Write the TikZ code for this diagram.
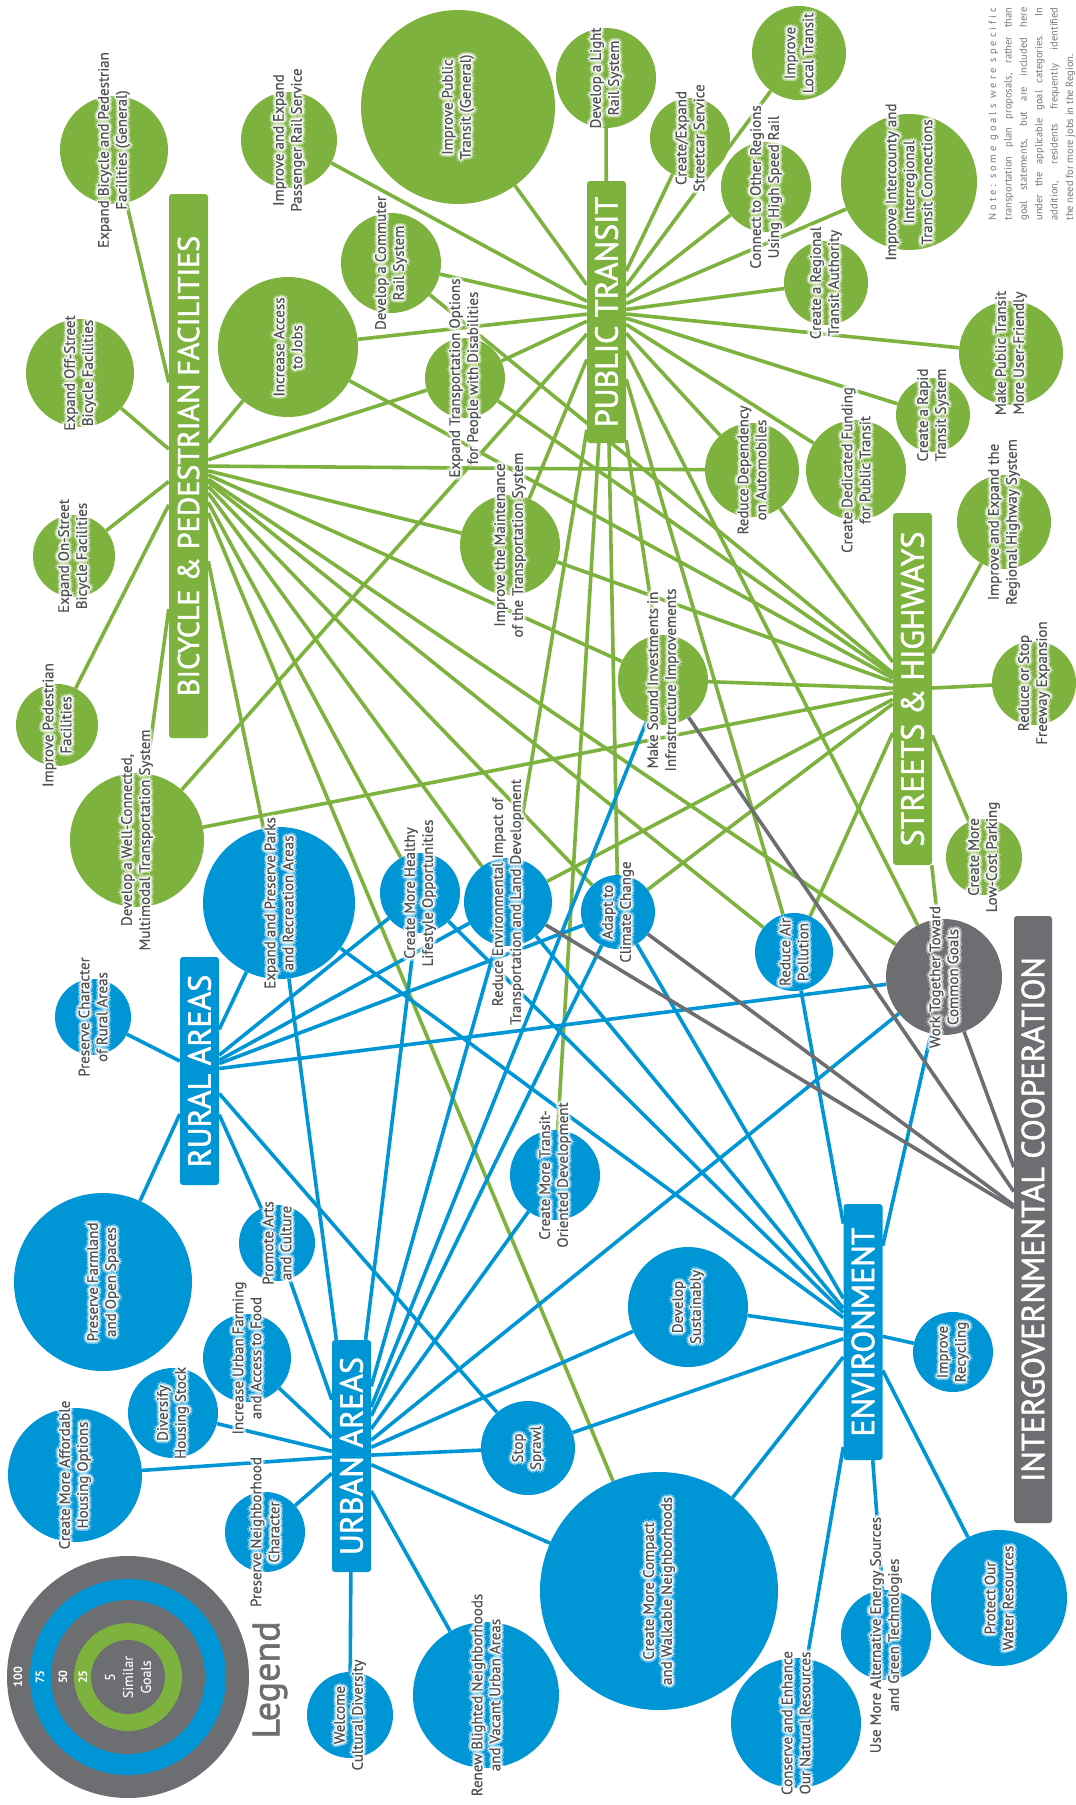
\documentclass[tikz,border=0pt]{standalone}
\usepackage{fontspec}
\setmainfont{PT Sans}
\newfontfamily\catfont{PT Sans}[FakeBold=1.6]
\newfontfamily\gfont{PT Sans}[FakeBold=0.4]
\usetikzlibrary{calc}
\definecolor{cg}{RGB}{126,178,62}
\definecolor{cb}{RGB}{0,150,214}
\definecolor{cgr}{RGB}{109,110,113}
\definecolor{tx}{RGB}{80,81,83}
\definecolor{notec}{RGB}{120,120,122}
\pgfdeclarelayer{bgl}
\pgfdeclarelayer{edges}
\pgfsetlayers{bgl,edges,main}
\tikzset{
  goalc/.style={circle, fill=#1, draw=none, inner sep=0pt},
  gt/.style={rotate=90, align=center, inner sep=0pt, text=tx, font=\gfont\fontsize{15}{18}\selectfont},
  cat/.style={rotate=90, fill=#1, text=white, inner sep=0pt, minimum height=39pt, rounded corners=3pt, font=\catfont\fontsize{32}{32}\selectfont},
  eg/.style={draw=cg, line width=3.6pt},
  eb/.style={draw=cb, line width=3.6pt},
  egr/.style={draw=cgr, line width=3.6pt},
  lgc/.style={circle, fill=#1, draw=none, inner sep=0pt},
  lgt/.style={rotate=90, text=white, inner sep=0pt, font=\bfseries\fontsize{12}{12}\selectfont},
}
\newcommand\goal[5]{\node[goalc=#2, minimum size=#5*2pt] (#1) at (#3,#4) {};}
\newcommand\lbl[2]{%
  \foreach \a in {0,45,...,315}{\node[gt,text=white,text opacity=.35] at ([shift={(\a:3.6)}]#1.center) {#2};}%
  \foreach \a in {0,45,...,315}{\node[gt,text=white,text opacity=.7] at ([shift={(\a:1.8)}]#1.center) {#2};}%
  \node[gt] (#1t) at (#1.center) {#2};}
\begin{document}
\begin{tikzpicture}[x=1pt,y=-1pt]
\begin{pgfonlayer}{bgl}
\fill[white] (0,0) rectangle (1076,1805);
\end{pgfonlayer}
\useasboundingbox (0,0) rectangle (1076,1805);
% green goals
\goal{ExpBikeGen}{cg}{114}{150}{54}
\goal{PassRail}{cg}{289}{140}{48}
\goal{ImprovePT}{cg}{458}{107}{97}
\goal{LightRail}{cg}{606}{78}{50}
\goal{Streetcar}{cg}{690}{138}{40}
\goal{LocalTransit}{cg}{799}{53}{47}
\goal{ConnectReg}{cg}{766}{187}{45}
\goal{Intercounty}{cg}{909}{182}{68}
\goal{Commuter}{cg}{391}{263}{50}
\goal{IncAccess}{cg}{288}{347}{70}
\goal{OffStreet}{cg}{80}{373}{54}
\goal{ExpTransp}{cg}{465}{378}{40}
\goal{RegAuth}{cg}{826}{283}{42}
\goal{UserFriendly}{cg}{1011}{353}{52}
\goal{Rapid}{cg}{933}{415}{37}
\goal{RedDep}{cg}{752}{470}{47}
\goal{DedFund}{cg}{856}{470}{50}
\goal{OnStreet}{cg}{74}{556}{41}
\goal{Maint}{cg}{510}{545}{50}
\goal{RegHwy}{cg}{1004}{522}{47}
\goal{PedFac}{cg}{57}{725}{41}
\goal{MakeSound}{cg}{663}{680}{45}
\goal{Freeway}{cg}{1034}{683}{42}
\goal{WellConn}{cg}{137}{840}{67}
\goal{Parking}{cg}{984}{857}{38}
% blue goals
\goal{Parks}{cb}{279}{903}{76}
\goal{Healthy}{cb}{420}{893}{40}
\goal{EnvImpact}{cb}{508}{902}{44}
\goal{Adapt}{cb}{618}{912}{37}
\goal{ReduceAir}{cb}{794}{952}{39}
\goal{WorkTog}{cgr}{944}{977}{58}
\goal{PresChar}{cb}{93}{1017}{38}
\goal{TOD}{cb}{555}{1175}{45}
\goal{Farmland}{cb}{103}{1282}{89}
\goal{Arts}{cb}{277}{1243}{38}
\goal{UrbanFarm}{cb}{247}{1358}{44}
\goal{DevSust}{cb}{688}{1307}{60}
\goal{Recycling}{cb}{953}{1352}{40}
\goal{Diversify}{cb}{173}{1413}{45}
\goal{Affordable}{cb}{75}{1475}{67}
\goal{StopSprawl}{cb}{528}{1448}{47}
\goal{PresNeigh}{cb}{265}{1532}{40}
\goal{Compact}{cb}{659}{1591}{119}
\goal{Water}{cb}{999}{1598}{68}
\goal{AltEnergy}{cb}{886}{1635}{45}
\goal{Welcome}{cb}{350}{1715}{43}
\goal{Renew}{cb}{486}{1695}{73}
\goal{Conserve}{cb}{796}{1723}{65}
% category boxes
\node[cat=cg, minimum width=544pt, font=\catfont\fontsize{30}{30}\selectfont] (B) at (188.5,466) {BICYCLE \& PEDESTRIAN FACILITIES};
\node[cat=cg, minimum width=262pt] (PT) at (606.5,312) {PUBLIC TRANSIT};
\node[cat=cg, minimum width=352pt] (SH) at (912.5,689) {STREETS \& HIGHWAYS};
\node[cat=cgr, minimum width=607pt, minimum height=38pt] (IGC) at (1033,1219.5) {INTERGOVERNMENTAL COOPERATION};
\node[cat=cb, minimum width=228pt] (RU) at (199.5,1071) {RURAL AREAS};
\node[cat=cb, minimum width=232pt] (UR) at (351.5,1456) {URBAN AREAS};
\node[cat=cb, minimum width=256pt] (EN) at (863,1332) {ENVIRONMENT};
% connectors
\begin{pgfonlayer}{edges}
\foreach \n in {ExpBikeGen,OffStreet,OnStreet,PedFac,WellConn,IncAccess,ExpTransp,RedDep,Maint,MakeSound,WorkTog,ReduceAir,Adapt,EnvImpact,Healthy,Parks,Compact} \draw[eg] (\n) -- (B);
\foreach \n in {PassRail,ImprovePT,LightRail,Streetcar,LocalTransit,ConnectReg,Intercounty,RegAuth,UserFriendly,Rapid,DedFund,RedDep,Commuter,IncAccess,ExpTransp,WellConn,Maint,EnvImpact,TOD,Adapt,MakeSound,ReduceAir,WorkTog} \draw[eg] (\n) -- (PT);
\foreach \n in {RegHwy,Freeway,Parking,RedDep,Maint,MakeSound,WellConn,EnvImpact,Adapt,ReduceAir,WorkTog,IncAccess,ExpTransp,Commuter} \draw[eg] (\n) -- (SH);
\foreach \n in {PresChar,Farmland,Parks,Arts,Healthy,EnvImpact,Adapt,WorkTog,StopSprawl} \draw[eb] (\n) -- (RU);
\foreach \n in {Affordable,Diversify,UrbanFarm,PresNeigh,Welcome,Renew,Compact,StopSprawl,Parks,Arts,Healthy,EnvImpact,Adapt,MakeSound,TOD,DevSust,WorkTog} \draw[eb] (\n) -- (UR);
\foreach \n in {Recycling,Water,AltEnergy,Conserve,Compact,DevSust,StopSprawl,Parks,Healthy,EnvImpact,Adapt,ReduceAir,WorkTog} \draw[eb] (\n) -- (EN);
\foreach \n in {MakeSound,WorkTog,EnvImpact,Adapt} \draw[egr] (\n) -- (IGC);
\end{pgfonlayer}
% labels
\lbl{ExpBikeGen}{Expand Bicycle and Pedestrian\\Facilities (General)}
\lbl{PassRail}{Improve and Expand\\Passenger Rail Service}
\lbl{ImprovePT}{Improve Public\\Transit (General)}
\lbl{LightRail}{Develop a Light\\Rail System}
\lbl{Streetcar}{Create/Expand\\Streetcar Service}
\lbl{LocalTransit}{Improve\\Local Transit}
\lbl{ConnectReg}{Connect to Other Regions\\Using High Speed Rail}
\lbl{Intercounty}{Improve Intercounty and\\Interregional\\Transit Connections}
\lbl{Commuter}{Develop a Commuter\\Rail System}
\lbl{IncAccess}{Increase Access\\to Jobs}
\lbl{OffStreet}{Expand Off-Street\\Bicycle Facilities}
\lbl{ExpTransp}{Expand Transportation Options\\for People with Disabilities}
\lbl{RegAuth}{Create a Regional\\Transit Authority}
\lbl{UserFriendly}{Make Public Transit\\More User-Friendly}
\lbl{Rapid}{Create a Rapid\\Transit System}
\lbl{RedDep}{Reduce Dependency\\on Automobiles}
\lbl{DedFund}{Create Dedicated Funding\\for Public Transit}
\lbl{OnStreet}{Expand On-Street\\Bicycle Facilities}
\lbl{Maint}{Improve the Maintenance\\of the Transportation System}
\lbl{RegHwy}{Improve and Expand the\\Regional Highway System}
\lbl{PedFac}{Improve Pedestrian\\Facilities}
\lbl{MakeSound}{Make Sound Investments in\\Infrastructure Improvements}
\lbl{Freeway}{Reduce or Stop\\Freeway Expansion}
\lbl{WellConn}{Develop a Well-Connected,\\Multimodal Transportation System}
\lbl{Parking}{Create More\\Low-Cost Parking}
\lbl{Parks}{Expand and Preserve Parks\\and Recreation Areas}
\lbl{Healthy}{Create More Healthy\\Lifestyle Opportunities}
\lbl{EnvImpact}{Reduce Environmental Impact of\\Transportation and Land Development}
\lbl{Adapt}{Adapt to\\Climate Change}
\lbl{ReduceAir}{Reduce Air\\Pollution}
\lbl{WorkTog}{Work Together Toward\\Common Goals}
\lbl{PresChar}{Preserve Character\\of Rural Areas}
\lbl{TOD}{Create More Transit-\\Oriented Development}
\lbl{Farmland}{Preserve Farmland\\and Open Spaces}
\lbl{Arts}{Promote Arts\\and Culture}
\lbl{UrbanFarm}{Increase Urban Farming\\and Access to Food}
\lbl{DevSust}{Develop\\Sustainably}
\lbl{Recycling}{Improve\\Recycling}
\lbl{Diversify}{Diversify\\Housing Stock}
\lbl{Affordable}{Create More Affordable\\Housing Options}
\lbl{StopSprawl}{Stop\\Sprawl}
\lbl{PresNeigh}{Preserve Neighborhood\\Character}
\lbl{Compact}{Create More Compact\\and Walkable Neighborhoods}
\lbl{Water}{Protect Our\\Water Resources}
\lbl{AltEnergy}{Use More Alternative Energy Sources\\and Green Technologies}
\lbl{Welcome}{Welcome\\Cultural Diversity}
\lbl{Renew}{Renew Blighted Neighborhoods\\and Vacant Urban Areas}
\lbl{Conserve}{Conserve and Enhance\\Our Natural Resources}
% note
\node[rotate=90, align=left, inner sep=0pt, text=notec, font=\fontsize{10.5}{15.4}\selectfont] (note) at (1032,114) {%
\makebox[213pt][s]{N o t e :\ \ s o m e\ \ g o a l s\ \ w e r e\ \ s p e c i f i c}\\
\makebox[213pt][s]{transportation plan proposals, rather than}\\
\makebox[213pt][s]{goal statements, but are included here}\\
\makebox[213pt][s]{under the applicable goal categories. In}\\
\makebox[213pt][s]{addition, residents frequently identified}\\
\makebox[213pt][l]{the need for more jobs in the Region.}};
% legend
\node[lgc=cgr, minimum size=242pt] (lg1) at (128,1677) {};
\node[lgc=cb, minimum size=196pt] (lg2) at (128,1677) {};
\node[lgc=cgr, minimum size=154pt] (lg3) at (128,1677) {};
\node[lgc=cg, minimum size=108pt] (lg4) at (128,1677) {};
\node[lgc=cgr, minimum size=74pt] (lg5) at (128,1677) {};
\node[lgt] (l100) at (18,1677) {100};
\node[lgt] (l75) at (40,1677) {75};
\node[lgt] (l50) at (63,1677) {50};
\node[lgt] (l25) at (83,1677) {25};
\node[rotate=90, align=center, inner sep=0pt, text=white!92!gray, font=\gfont\fontsize{14}{18}\selectfont] (l5) at (128,1677) {5\\Similar\\Goals};
\node[rotate=90, inner sep=0pt, text=cgr, font=\catfont\fontsize{38}{38}\selectfont] (legend) at (270,1680) {Legend};
\end{tikzpicture}
\end{document}
